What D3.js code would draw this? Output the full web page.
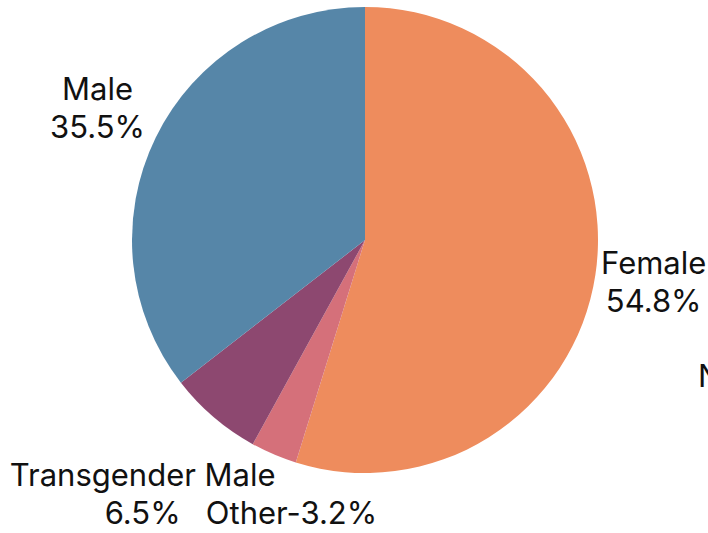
<!DOCTYPE html>
<html>
<head>
<meta charset="utf-8">
<script src="https://cdn.jsdelivr.net/npm/d3@7"></script>
<style>
  body { margin: 0; background: #fff; }
  svg { display: block; font-family: Inter, "Noto Sans", sans-serif; }
</style>
</head>
<body>
<div id="chart"></div>
<script>
// slices, clockwise from 12 o'clock
const categories = ['Female', 'Other', 'Transgender Male', 'Male', 'Non-Binary'];
const shares = [54.8, 3.2, 6.5, 35.5, 0];
const labelLines = [
    ['Female', '54.8%'],
    ['Other-3.2%'],
    ['Transgender Male', '6.5%'],
    ['Male', '35.5%'],
    ['Non-Binary-0%']
];
const colours = ['#ee8c5d', '#d5707a', '#8d4870', '#5686a8', '#999999'];

// labels got pushed around in the original so nudge them a bit
const labelNudge = {
    'Female': [2, -2],
    'Other': [40, 6],
    'Transgender Male': [-34, 33],
    'Male': [-7, -5],
    'Non-Binary': [333, 426]
};

const width = 708;
const height = 533;
const cx = 365, cy = 240;
const radius = 233;
const labelRadius = 290;

const data = categories.map((c, i) => ({name: c, value: shares[i], lines: labelLines[i], colour: colours[i]}));

const svg = d3.select('#chart')
    .append('svg')
        .attr('width', width)
        .attr('height', height);

const g = svg.append('g').attr('transform', `translate(${cx}, ${cy})`);

const pie = d3.pie().sort(null).value((d) => d.value);
const arc = d3.arc().innerRadius(0).outerRadius(radius);
const labelArc = d3.arc().innerRadius(labelRadius).outerRadius(labelRadius);

const arcs = pie(data);

g.selectAll('path')
    .data(arcs)
    .enter()
        .append('path')
            .attr('d', arc)
            .attr('fill', (d) => d.data.colour);

const fontSize = 31;
const lineHeight = 38;

const labels = g.selectAll('text.lbl')
    .data(arcs)
    .enter()
        .append('text')
            .attr('class', 'lbl')
            .attr('text-anchor', (d) => d.data.name === 'Non-Binary' ? 'start' : 'middle')
            .attr('font-size', fontSize)
            .attr('fill', '#111')
            .attr('transform', (d) => {
                let p = labelArc.centroid(d);
                let key = d.data.name;
                let n = labelNudge[key] || [0, 0];
                return `translate(${p[0] + n[0]}, ${p[1] + n[1]})`;
            });

labels.each(function(d) {
    let t = d3.select(this);
    let k = d.data.lines.length;
    d.data.lines.forEach((line, i) => {
        t.append('tspan')
            .attr('x', 0)
            .attr('dy', i === 0 ? (-(k - 1) * lineHeight / 2 + fontSize * 0.36) : lineHeight)
            .text(line);
    });
});
</script>
</body>
</html>
